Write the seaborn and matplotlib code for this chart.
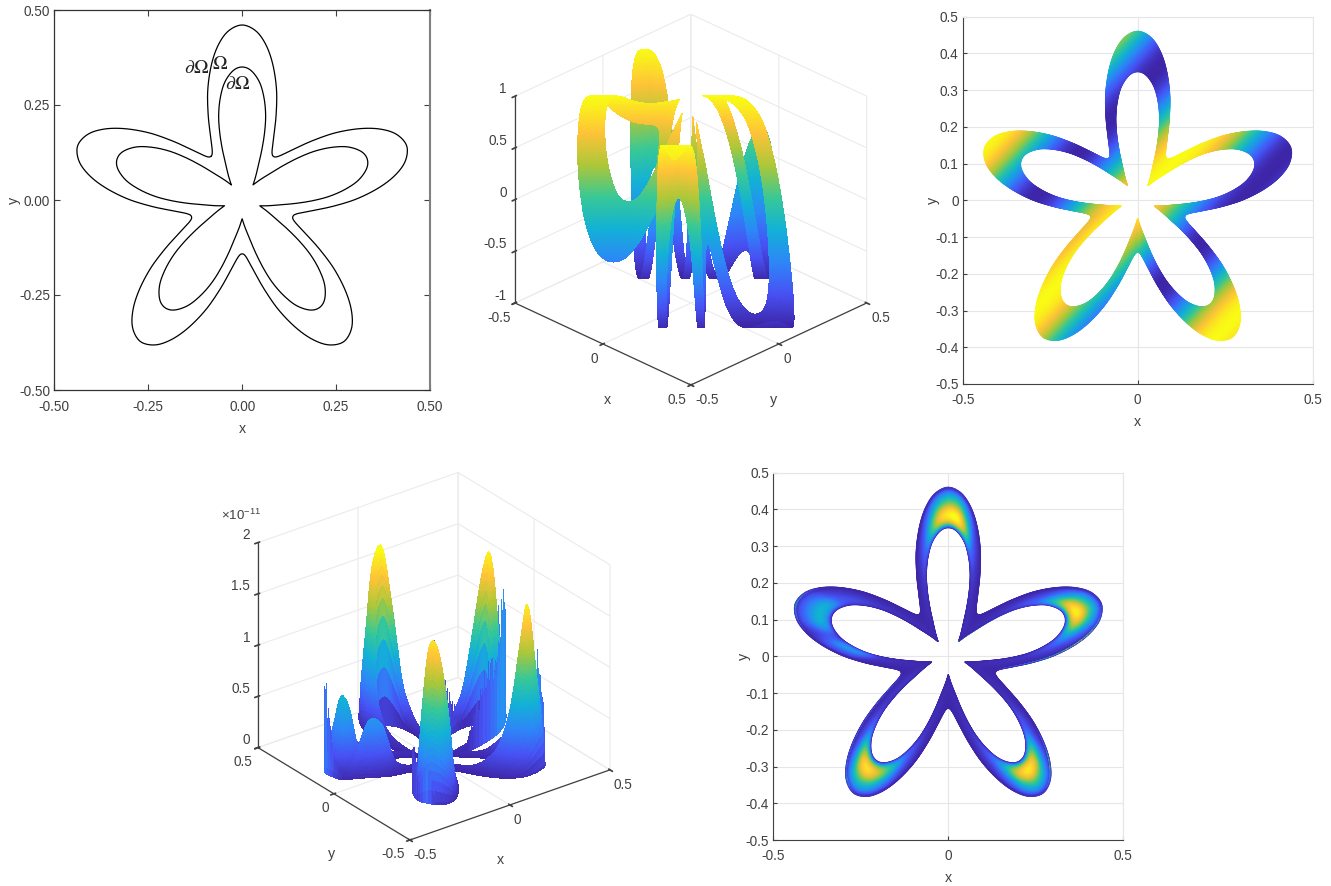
import numpy as np
import pandas as pd
import matplotlib
matplotlib.use("Agg")
import matplotlib.pyplot as plt
from mpl_toolkits.mplot3d import proj3d
import seaborn as sns

# half a petal, tip down to the notch
outer_x = [0.000, 0.037, 0.064, 0.082, 0.0915, 0.0905, 0.0845, 0.0800, 0.0800, 0.0833]
outer_y = [0.4605, 0.4445, 0.407, 0.355, 0.290, 0.225, 0.170, 0.135, 0.120, 0.1145]
inner_x = [0.000, 0.024, 0.046, 0.058, 0.0625, 0.060, 0.053, 0.044, 0.036, 0.029]
inner_y = [0.350, 0.3405, 0.3105, 0.270, 0.225, 0.180, 0.135, 0.095, 0.062, 0.040]

# wave height against x - y (top right panels)
band_d = [-0.70, -0.65, -0.60, -0.55, -0.50, -0.45, -0.40, -0.35, -0.30, -0.25, -0.20, -0.15, -0.10, -0.05,
          0.00, 0.05, 0.10, 0.15, 0.20, 0.25, 0.30, 0.35, 0.40, 0.45, 0.50, 0.55, 0.60, 0.65, 0.70]
band_z = [0.50, 0.87, 1.00, 0.87, 0.50, 0.00, -0.50, -0.87, -1.00, -0.87, -0.50, 0.00, 0.50, 0.87,
          1.00, 0.87, 0.50, 0.00, -0.50, -0.87, -1.00, -0.87, -0.50, 0.00, 0.50, 0.87, 1.00, 0.87, 0.50]

# bump height along each petal, in 1e-11, notch -> tip -> notch, clockwise from the top
amp_top = [0.03, 0.03, 0.04, 0.06, 0.10, 0.20, 0.40, 0.85, 1.40, 1.65, 1.68, 1.10, 0.45, 0.20, 0.10, 0.06, 0.05, 0.05, 0.03]
amp_right = [0.03, 0.03, 0.04, 0.06, 0.10, 0.20, 0.38, 0.85, 1.42, 1.65, 1.30, 0.65, 0.30, 0.15, 0.08, 0.06, 0.05, 0.04, 0.03]
amp_lowright = [0.03, 0.03, 0.04, 0.05, 0.08, 0.18, 0.35, 0.85, 1.42, 1.62, 1.32, 0.70, 0.32, 0.16, 0.08, 0.05, 0.04, 0.03, 0.03]
amp_lowleft = [0.03, 0.03, 0.04, 0.05, 0.08, 0.18, 0.38, 0.80, 1.25, 1.55, 1.50, 0.95, 0.42, 0.18, 0.10, 0.09, 0.08, 0.05, 0.03]
amp_left = [0.03, 0.03, 0.04, 0.06, 0.15, 0.50, 0.55, 0.28, 0.68, 0.75, 0.68, 0.30, 0.20, 0.12, 0.08, 0.06, 0.05, 0.04, 0.03]

# across the ring, inner edge (0) to outer edge (1)
across_s = [0.00, 0.10, 0.20, 0.30, 0.40, 0.50, 0.60, 0.70, 0.80, 0.90, 1.00]
across_w = [0.00, 0.62, 0.90, 1.00, 0.97, 0.86, 0.70, 0.56, 0.42, 0.25, 0.00]

# thin noisy fringe on the edges, same station order as above
rim_inner_right = [1.10, 1.05, 0.95, 0.70, 0.50, 0.30, 0.15, 0.05, 0, 0, 0, 0, 0, 0, 0, 0, 0, 0, 0]
rim_outer_right = [0, 0, 0, 0, 0, 0, 0, 0, 0, 0.20, 0.60, 1.20, 1.35, 1.00, 0.70, 0.40, 0.20, 0.10, 0]
rim_outer_lowright = [0, 0, 0, 0, 0, 0, 0.50, 1.15, 0.70, 0.10, 0, 0, 0, 0, 0, 0, 0, 0, 0]
rim_outer_lowleft = [0, 0, 0, 0, 0, 0, 0, 0, 0, 0.10, 0.80, 0.45, 0.40, 0.35, 0.35, 0.30, 0.25, 0.15, 0.05]
rim_outer_left = [0, 0, 0, 0, 0, 0, 0, 0.10, 0.50, 0.95, 0.50, 0.10, 0, 0, 0, 0, 0, 0, 0]
rim_comb = [1.0, 0.6, 0.85, 0.45, 0.95, 0.55, 0.7, 0.4]

tick_half = [-0.50, -0.25, 0.00, 0.25, 0.50]
tick_tenth = [-0.5, -0.4, -0.3, -0.2, -0.1, 0, 0.1, 0.2, 0.3, 0.4, 0.5]

parula = sns.blend_palette(["#3e26a8", "#4752f4", "#2d87f7", "#12b1d6", "#37c897", "#abc739", "#fec338", "#f9fb15"],
                           n_colors=256, as_cmap=True)

sns.set_theme(style="white")
plt.rcParams["font.family"] = ["Liberation Sans", "DejaVu Sans"]
plt.rcParams["mathtext.fontset"] = "stix"
text_col = "#404040"
font_px = 9.8
W, H = 1331, 886


def smooth(vals, steps=10):
    # catmull-rom through the read points
    vals = np.asarray(vals, dtype=float)
    p = np.concatenate([[vals[0]], vals, [vals[-1]]])
    t = np.linspace(0, 1, steps, endpoint=False)
    out = []
    for i in range(1, len(p) - 2):
        a, b, c, d = p[i - 1], p[i], p[i + 1], p[i + 2]
        out.append(0.5 * (2 * b + (c - a) * t + (2 * a - 5 * b + 4 * c - d) * t ** 2 + (3 * b - a - 3 * c + d) * t ** 3))
    return np.concatenate(out)


def ring_curve(hx, hy):
    px = smooth([-v for v in hx[::-1]] + hx[1:])
    py = smooth(hy[::-1] + hy[1:])
    xs, ys = [], []
    for k in range(5):
        a = np.deg2rad(72 * k)
        xs.append(px * np.cos(a) + py * np.sin(a))
        ys.append(-px * np.sin(a) + py * np.cos(a))
    xs, ys = np.concatenate(xs), np.concatenate(ys)
    return np.append(xs, xs[0]), np.append(ys, ys[0])


def ring_values(petals):
    v = np.clip(np.concatenate([smooth(a) for a in petals]), 0, None)
    return np.append(v, v[0])


ox, oy = ring_curve(outer_x, outer_y)
ix, iy = ring_curve(inner_x, inner_y)

layers = np.linspace(0, 1, 41)[:, None]
X = ix + layers * (ox - ix)
Y = iy + layers * (oy - iy)

# panel fields
fine_d, fine_z = smooth(band_d), smooth(band_z)
Z_wave = np.clip(np.interp(X - Y, fine_d, fine_z), -1, 1)

none = [0] * 19
amp = ring_values([amp_top, amp_right, amp_lowright, amp_lowleft, amp_left])
Z_bump = np.interp(layers, smooth(across_s, 4), np.clip(smooth(across_w, 4), 0, None)) * amp
comb = np.resize(rim_comb, amp.size)
rim_in = ring_values([none, rim_inner_right, none, none, none]) * comb
rim_out = ring_values([none, rim_outer_right, rim_outer_lowright, rim_outer_lowleft, rim_outer_left]) * comb
Z_bump[1] = np.maximum(Z_bump[1], rim_in)
Z_bump[-2] = np.maximum(Z_bump[-2], rim_out)

fig = plt.figure(figsize=(W / 100, H / 100), dpi=100)


def px_axes(left, right, top, bottom, **kw):
    return fig.add_axes([left / W, 1 - bottom / H, (right - left) / W, (bottom - top) / H], **kw)


# top left: the two boundaries
ax = px_axes(54.3, 430, 10, 390)
for cx, cy in [(ox, oy), (ix, iy)]:
    sns.lineplot(data=pd.DataFrame({"x": cx, "y": cy}), x="x", y="y", sort=False, estimator=None,
                 color="black", linewidth=0.9, ax=ax)
ax.set_xlim(-0.5, 0.5)
ax.set_ylim(-0.5, 0.5)
ax.set_xticks(tick_half, [f"{v:.2f}" for v in tick_half])
ax.set_yticks(tick_half, [f"{v:.2f}" for v in tick_half])
ax.tick_params(direction="in", length=4, width=0.8, top=True, right=True, bottom=True, left=True,
               colors=text_col, labelsize=font_px)
ax.tick_params(axis="x", pad=7)
ax.tick_params(axis="y", pad=3)
for s in ax.spines.values():
    s.set_color("#333333")
    s.set_linewidth(0.9)
ax.spines["right"].set_color("#808080")
ax.spines["right"].set_linewidth(1.5)
ax.set_xlabel("x", color=text_col, fontsize=font_px + 0.5, labelpad=6)
ax.set_ylabel("y", color=text_col, fontsize=font_px + 0.5, labelpad=-1.5)
ax.text(-0.122, 0.345, r"$\partial\Omega$", fontsize=14, ha="center", va="center", color="#222222")
ax.text(-0.060, 0.356, r"$\Omega$", fontsize=14, ha="center", va="center", color="#222222")
ax.text(-0.013, 0.303, r"$\partial\Omega$", fontsize=14, ha="center", va="center", color="#222222")


def flat_panel(ax, Z, vmin, vmax):
    ax.pcolormesh(X, Y, np.minimum(Z, vmax), shading="gouraud", cmap=parula, vmin=vmin, vmax=vmax, rasterized=True)
    ax.set_xlim(-0.5, 0.5)
    ax.set_ylim(-0.5, 0.5)
    ax.set_xticks([-0.5, 0, 0.5], ["-0.5", "0", "0.5"])
    ax.set_yticks(tick_tenth, [f"{v:g}" for v in tick_tenth])
    ax.grid(True, color="#e6e6e6", linewidth=0.8)
    ax.set_axisbelow(True)
    ax.tick_params(direction="in", length=3, width=0.8, colors=text_col, labelsize=font_px, bottom=True, left=True)
    ax.tick_params(axis="x", pad=6.5)
    ax.tick_params(axis="y", pad=3)
    for name, s in ax.spines.items():
        s.set_color("#404040" if name in ("left", "bottom") else "#e6e6e6")
        s.set_linewidth(0.8)
    ax.set_xlabel("x", color=text_col, fontsize=font_px + 0.5, labelpad=6)
    ax.set_ylabel("y", color=text_col, fontsize=font_px + 0.5, labelpad=-3.5)


flat_panel(px_axes(962.7, 1312.7, 16.7, 384), Z_wave, -1, 1)
flat_panel(px_axes(773.3, 1123.3, 472.7, 840), Z_bump, 0, 1.7)


def cube_panel(Z, vmin, vmax, zlim, zticks, azim, elev, aspect, corners, x_ha, y_ha, label_xy, z_side):
    ax = fig.add_axes([0.3, 0.3, 0.3, 0.3 * W / H], projection="3d", proj_type="ortho", computed_zorder=False)
    mid = (Z[:-1, :-1] + Z[1:, :-1] + Z[:-1, 1:] + Z[1:, 1:]) / 4
    fc = parula(np.clip((mid - vmin) / (vmax - vmin), 0, 1))
    ax.plot_surface(X, Y, Z, facecolors=fc, rstride=1, cstride=1, shade=False, linewidth=0, antialiased=False)
    ax.set_xlim(-0.5, 0.5)
    ax.set_ylim(-0.5, 0.5)
    ax.set_zlim(*zlim)
    ax.set_box_aspect(aspect, zoom=1)
    ax.view_init(elev=elev, azim=azim)
    ax.set_xticks([-0.5, 0, 0.5], ["-0.5", "0", "0.5"])
    ax.set_yticks([-0.5, 0, 0.5], ["-0.5", "0", "0.5"])
    ax.set_zticks(zticks, [f"{v:g}" for v in zticks])
    for a in (ax.xaxis, ax.yaxis, ax.zaxis):
        a.set_pane_color((1, 1, 1, 0))
        a.pane.set_edgecolor("#ebebeb")
        a._axinfo["grid"].update(color="#ebebeb", linewidth=0.8)
        a.line.set_color("#404040")
        a.line.set_linewidth(0.9)
    ax.zaxis.set_ticks_position(z_side)
    ax.tick_params(colors=text_col, labelsize=font_px, pad=-4)
    ax.tick_params(axis="z", pad=-4.5)
    for t in ax.get_xticklabels():
        t.set_ha(x_ha)
    for t in ax.get_yticklabels():
        t.set_ha(y_ha)
    for t in ax.get_zticklabels():
        t.set_ha("right")
        t.set_va("bottom")
    fig.text(label_xy[0] / W, 1 - label_xy[1] / H, "x", color=text_col, fontsize=font_px + 0.5, ha="center", va="center")
    fig.text(label_xy[2] / W, 1 - label_xy[3] / H, "y", color=text_col, fontsize=font_px + 0.5, ha="center", va="center")

    # move and scale the axes so that the floor corners land where they are in the reference
    (c0, c1, c2, rows) = corners
    for _ in range(3):
        fig.canvas.draw()
        M = ax.get_proj()
        pts = []
        for p in (c0, c1, c2):
            u, v, _w = proj3d.proj_transform(p[0], p[1], p[2], M)
            pts.append(ax.transData.transform((u, v)))
        pts = np.array(pts)
        span = pts[2, 0] - pts[0, 0]
        pos = ax.get_position(original=True)
        size = pos.width * W * (rows[1] - rows[0]) / span
        cx = (pts[0, 0] + pts[2, 0]) / 2
        mid_x = (pos.x0 + pos.width / 2) * W + (rows[0] + rows[1]) / 2 - cx
        mid_y = (pos.y0 + pos.height / 2) * H + (H - rows[2]) - pts[1, 1]
        ax.set_position([(mid_x - size / 2) / W, (mid_y - size / 2) / H, size / W, size / H])
    return ax


cube_panel(Z_wave, -1, 1, (-1, 1), [-1, -0.5, 0, 0.5, 1], -45, 27.8, (1, 1, 0.94),
           ((-0.5, -0.5, -1), (0.5, -0.5, -1), (0.5, 0.5, -1), (515, 866.7, 385)), "right", "left", (607, 400, 773, 400), "lower")
cube_panel(Z_bump, 0, 1.7, (0, 2), [0, 0.5, 1, 1.5, 2], -127.2, 27.5, (1, 1, 0.92),
           ((-0.5, 0.5, 0), (-0.5, -0.5, 0), (0.5, -0.5, 0), (258, 610, 840)), "left", "right", (500, 860, 332, 854), "default")
fig.text(221 / W, 1 - 515 / H, r"$\mathregular{\times 10^{-11}}$", color=text_col, fontsize=9.5, va="center")

fig.savefig("out.png", dpi=100)
